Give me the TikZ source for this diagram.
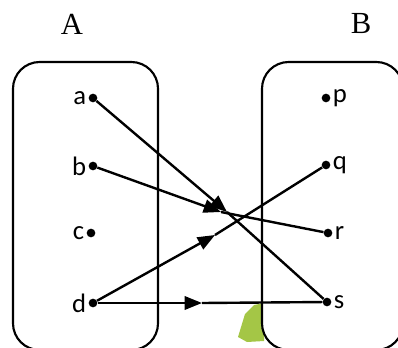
\documentclass[tikz,border=0pt]{standalone}
\usepackage{fontspec}
\setmainfont{Liberation Serif}
\newfontfamily\elemfont{Carlito}
\usepackage{xcolor}
\definecolor{leafgrn}{RGB}{164,198,70}
\usetikzlibrary{arrows.meta, positioning}
\tikzset{
  setbox/.style={
    draw=black, line width=1.6pt, fill=white,
    rounded corners=20pt},
  elem/.style={
    circle, fill=black, inner sep=0pt, minimum size=6.5pt},
  elabel/.style={
    font=\elemfont\fontsize{20}{24}\selectfont, inner sep=1pt},
  setname/.style={font=\fontsize{23}{27}\selectfont},
  arr/.style={-{Triangle[length=13pt, width=10pt]}, line width=1.8pt},
  link/.style={line width=1.8pt},
}

\begin{document}
\begin{tikzpicture}[x=0.75pt, y=-0.75pt]
  \clip (0,0) rectangle (398,348);
  % set names
  \node[setname] (nA) at (72,24) {A};
  \node[setname] (nB) at (361,24) {B};
  % the two sets
  \draw[setbox] (13,62) rectangle (158,350);
  \fill[leafgrn] (238,337) -- (245,314) -- (254,305) -- (264,303)
    -- (264,341) -- (247,342) -- cycle;
  \draw[setbox] (262,62) rectangle (403,350);
  % elements of A
  \node[elem] (a) at (93,98) {};
  \node[elem] (b) at (93,166) {};
  \node[elem] (c) at (91,233) {};
  \node[elem] (d) at (93,303) {};
  \node[elabel, left=0.5pt of a] {a};
  \node[elabel, left=0.5pt of b] {b};
  \node[elabel, left=0.5pt of c] {c};
  \node[elabel, left=0.5pt of d] {d};
  % elements of B
  \node[elem] (p) at (326,98) {};
  \node[elem] (q) at (326,165) {};
  \node[elem] (r) at (328,233) {};
  \node[elem] (s) at (327,302) {};
  \node[elabel, right=0.5pt of p] {p};
  \node[elabel, right=0.5pt of q] {q};
  \node[elabel, right=0.5pt of r] {r};
  \node[elabel, right=0.5pt of s] {s};
  % mappings
  \coordinate (as) at (227,212);
  \coordinate (br) at (221,212);
  \coordinate (dq) at (215,235);
  \coordinate (ds) at (202,303);
  \draw[arr] (a) -- (as);
  \draw[link] (as) -- (s);
  \draw[arr] (b) -- (br);
  \draw[link] (br) -- (r);
  \draw[arr] (d) -- (dq);
  \draw[link] (dq) -- (q);
  \draw[arr] (d) -- (ds);
  \draw[link] (ds) -- (s);
\end{tikzpicture}
\end{document}
